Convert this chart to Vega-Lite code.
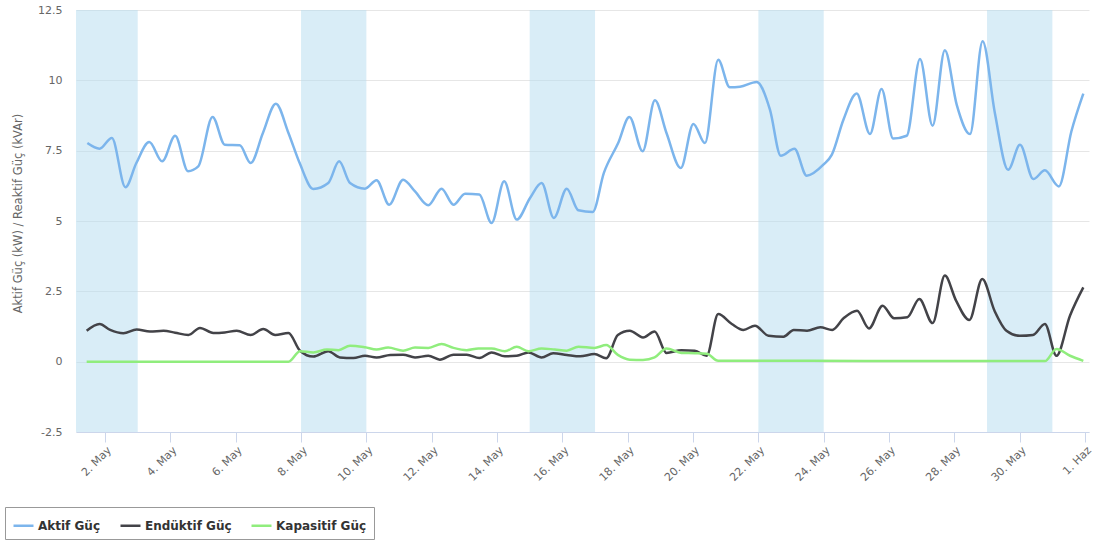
{
  "$schema": "https://vega.github.io/schema/vega-lite/v6.json",
  "width": 1013,
  "height": 422,
  "autosize": {"type": "none"},
  "padding": {"left": 76, "top": 10, "right": 8, "bottom": 111},
  "config": {"view": {"stroke": null}, "font": "DejaVu Sans"},
  "datasets": {
    "bands": [
      {"start": "2021-05-01T00:00", "end": "2021-05-03T00:00"},
      {"start": "2021-05-08T00:00", "end": "2021-05-10T00:00"},
      {"start": "2021-05-15T00:00", "end": "2021-05-17T00:00"},
      {"start": "2021-05-22T00:00", "end": "2021-05-24T00:00"},
      {"start": "2021-05-29T00:00", "end": "2021-05-31T00:00"}
    ],
    "series": [
      {"t": "2021-05-01T11:00", "s": "Aktif Güç", "v": 7.77},
      {"t": "2021-05-01T20:00", "s": "Aktif Güç", "v": 7.57},
      {"t": "2021-05-02T05:00", "s": "Aktif Güç", "v": 7.95},
      {"t": "2021-05-02T15:00", "s": "Aktif Güç", "v": 6.20},
      {"t": "2021-05-02T23:00", "s": "Aktif Güç", "v": 7.06},
      {"t": "2021-05-03T08:30", "s": "Aktif Güç", "v": 7.81},
      {"t": "2021-05-03T18:00", "s": "Aktif Güç", "v": 7.12},
      {"t": "2021-05-04T03:30", "s": "Aktif Güç", "v": 8.03},
      {"t": "2021-05-04T13:00", "s": "Aktif Güç", "v": 6.77},
      {"t": "2021-05-04T20:30", "s": "Aktif Güç", "v": 6.94},
      {"t": "2021-05-05T07:00", "s": "Aktif Güç", "v": 8.70},
      {"t": "2021-05-05T16:00", "s": "Aktif Güç", "v": 7.71},
      {"t": "2021-05-06T03:00", "s": "Aktif Güç", "v": 7.69},
      {"t": "2021-05-06T11:00", "s": "Aktif Güç", "v": 7.06},
      {"t": "2021-05-06T20:00", "s": "Aktif Güç", "v": 8.13},
      {"t": "2021-05-07T05:30", "s": "Aktif Güç", "v": 9.17},
      {"t": "2021-05-07T14:45", "s": "Aktif Güç", "v": 8.13},
      {"t": "2021-05-07T23:00", "s": "Aktif Güç", "v": 7.06},
      {"t": "2021-05-08T09:00", "s": "Aktif Güç", "v": 6.14},
      {"t": "2021-05-08T20:00", "s": "Aktif Güç", "v": 6.35},
      {"t": "2021-05-09T04:00", "s": "Aktif Güç", "v": 7.12},
      {"t": "2021-05-09T12:00", "s": "Aktif Güç", "v": 6.35},
      {"t": "2021-05-09T23:00", "s": "Aktif Güç", "v": 6.15},
      {"t": "2021-05-10T07:30", "s": "Aktif Güç", "v": 6.45},
      {"t": "2021-05-10T16:45", "s": "Aktif Güç", "v": 5.58},
      {"t": "2021-05-11T03:00", "s": "Aktif Güç", "v": 6.47},
      {"t": "2021-05-11T11:45", "s": "Aktif Güç", "v": 6.05},
      {"t": "2021-05-11T21:30", "s": "Aktif Güç", "v": 5.56},
      {"t": "2021-05-12T07:15", "s": "Aktif Güç", "v": 6.15},
      {"t": "2021-05-12T16:00", "s": "Aktif Güç", "v": 5.58},
      {"t": "2021-05-13T00:30", "s": "Aktif Güç", "v": 5.97},
      {"t": "2021-05-13T11:00", "s": "Aktif Güç", "v": 5.94},
      {"t": "2021-05-13T20:00", "s": "Aktif Güç", "v": 4.93},
      {"t": "2021-05-14T05:15", "s": "Aktif Güç", "v": 6.41},
      {"t": "2021-05-14T14:30", "s": "Aktif Güç", "v": 5.05},
      {"t": "2021-05-15T00:15", "s": "Aktif Güç", "v": 5.82},
      {"t": "2021-05-15T08:45", "s": "Aktif Güç", "v": 6.35},
      {"t": "2021-05-15T17:45", "s": "Aktif Güç", "v": 5.11},
      {"t": "2021-05-16T03:15", "s": "Aktif Güç", "v": 6.15},
      {"t": "2021-05-16T11:45", "s": "Aktif Güç", "v": 5.38},
      {"t": "2021-05-16T22:15", "s": "Aktif Güç", "v": 5.32},
      {"t": "2021-05-17T06:30", "s": "Aktif Güç", "v": 6.71},
      {"t": "2021-05-17T17:00", "s": "Aktif Güç", "v": 7.77},
      {"t": "2021-05-18T01:15", "s": "Aktif Güç", "v": 8.70},
      {"t": "2021-05-18T11:00", "s": "Aktif Güç", "v": 7.48},
      {"t": "2021-05-18T20:00", "s": "Aktif Güç", "v": 9.29},
      {"t": "2021-05-19T04:30", "s": "Aktif Güç", "v": 8.13},
      {"t": "2021-05-19T15:00", "s": "Aktif Güç", "v": 6.88},
      {"t": "2021-05-20T00:15", "s": "Aktif Güç", "v": 8.45},
      {"t": "2021-05-20T08:45", "s": "Aktif Güç", "v": 7.77},
      {"t": "2021-05-20T18:30", "s": "Aktif Güç", "v": 10.73},
      {"t": "2021-05-21T03:00", "s": "Aktif Güç", "v": 9.75},
      {"t": "2021-05-21T10:30", "s": "Aktif Güç", "v": 9.77},
      {"t": "2021-05-21T22:45", "s": "Aktif Güç", "v": 9.94},
      {"t": "2021-05-22T08:30", "s": "Aktif Güç", "v": 8.96},
      {"t": "2021-05-22T16:30", "s": "Aktif Güç", "v": 7.32},
      {"t": "2021-05-23T02:30", "s": "Aktif Güç", "v": 7.57},
      {"t": "2021-05-23T11:30", "s": "Aktif Güç", "v": 6.61},
      {"t": "2021-05-23T23:45", "s": "Aktif Güç", "v": 7.00},
      {"t": "2021-05-24T06:00", "s": "Aktif Güç", "v": 7.36},
      {"t": "2021-05-24T14:30", "s": "Aktif Güç", "v": 8.60},
      {"t": "2021-05-25T00:15", "s": "Aktif Güç", "v": 9.53},
      {"t": "2021-05-25T10:00", "s": "Aktif Güç", "v": 8.09},
      {"t": "2021-05-25T18:30", "s": "Aktif Güç", "v": 9.69},
      {"t": "2021-05-26T03:00", "s": "Aktif Güç", "v": 7.93},
      {"t": "2021-05-26T13:00", "s": "Aktif Güç", "v": 8.03},
      {"t": "2021-05-26T22:45", "s": "Aktif Güç", "v": 10.76},
      {"t": "2021-05-27T08:00", "s": "Aktif Güç", "v": 8.39},
      {"t": "2021-05-27T17:00", "s": "Aktif Güç", "v": 11.07},
      {"t": "2021-05-28T01:45", "s": "Aktif Güç", "v": 9.13},
      {"t": "2021-05-28T11:30", "s": "Aktif Güç", "v": 8.09},
      {"t": "2021-05-28T20:45", "s": "Aktif Güç", "v": 11.39},
      {"t": "2021-05-29T05:45", "s": "Aktif Güç", "v": 8.84},
      {"t": "2021-05-29T15:30", "s": "Aktif Güç", "v": 6.82},
      {"t": "2021-05-30T00:15", "s": "Aktif Güç", "v": 7.71},
      {"t": "2021-05-30T10:00", "s": "Aktif Güç", "v": 6.49},
      {"t": "2021-05-30T18:30", "s": "Aktif Güç", "v": 6.80},
      {"t": "2021-05-31T04:45", "s": "Aktif Güç", "v": 6.23},
      {"t": "2021-05-31T14:00", "s": "Aktif Güç", "v": 8.19},
      {"t": "2021-05-31T22:45", "s": "Aktif Güç", "v": 9.53},

      {"t": "2021-05-01T10:30", "s": "Endüktif Güç", "v": 1.10},
      {"t": "2021-05-01T20:00", "s": "Endüktif Güç", "v": 1.34},
      {"t": "2021-05-02T03:45", "s": "Endüktif Güç", "v": 1.13},
      {"t": "2021-05-02T13:30", "s": "Endüktif Güç", "v": 1.01},
      {"t": "2021-05-02T23:15", "s": "Endüktif Güç", "v": 1.14},
      {"t": "2021-05-03T09:00", "s": "Endüktif Güç", "v": 1.07},
      {"t": "2021-05-03T19:00", "s": "Endüktif Güç", "v": 1.10},
      {"t": "2021-05-04T03:30", "s": "Endüktif Güç", "v": 1.03},
      {"t": "2021-05-04T13:15", "s": "Endüktif Güç", "v": 0.95},
      {"t": "2021-05-04T21:45", "s": "Endüktif Güç", "v": 1.20},
      {"t": "2021-05-05T07:30", "s": "Endüktif Güç", "v": 1.02},
      {"t": "2021-05-05T16:00", "s": "Endüktif Güç", "v": 1.04},
      {"t": "2021-05-06T00:45", "s": "Endüktif Güç", "v": 1.10},
      {"t": "2021-05-06T11:00", "s": "Endüktif Güç", "v": 0.95},
      {"t": "2021-05-06T20:15", "s": "Endüktif Güç", "v": 1.16},
      {"t": "2021-05-07T05:00", "s": "Endüktif Güç", "v": 0.95},
      {"t": "2021-05-07T14:45", "s": "Endüktif Güç", "v": 1.02},
      {"t": "2021-05-07T23:15", "s": "Endüktif Güç", "v": 0.39},
      {"t": "2021-05-08T09:00", "s": "Endüktif Güç", "v": 0.18},
      {"t": "2021-05-08T20:00", "s": "Endüktif Güç", "v": 0.37},
      {"t": "2021-05-09T04:30", "s": "Endüktif Güç", "v": 0.15},
      {"t": "2021-05-09T14:30", "s": "Endüktif Güç", "v": 0.13},
      {"t": "2021-05-09T23:00", "s": "Endüktif Güç", "v": 0.21},
      {"t": "2021-05-10T07:30", "s": "Endüktif Güç", "v": 0.15},
      {"t": "2021-05-10T17:30", "s": "Endüktif Güç", "v": 0.24},
      {"t": "2021-05-11T03:00", "s": "Endüktif Güç", "v": 0.25},
      {"t": "2021-05-11T11:45", "s": "Endüktif Güç", "v": 0.15},
      {"t": "2021-05-11T21:30", "s": "Endüktif Güç", "v": 0.21},
      {"t": "2021-05-12T06:00", "s": "Endüktif Güç", "v": 0.07},
      {"t": "2021-05-12T16:00", "s": "Endüktif Güç", "v": 0.25},
      {"t": "2021-05-13T01:45", "s": "Endüktif Güç", "v": 0.25},
      {"t": "2021-05-13T11:00", "s": "Endüktif Güç", "v": 0.13},
      {"t": "2021-05-13T20:00", "s": "Endüktif Güç", "v": 0.33},
      {"t": "2021-05-14T05:45", "s": "Endüktif Güç", "v": 0.19},
      {"t": "2021-05-14T14:30", "s": "Endüktif Güç", "v": 0.21},
      {"t": "2021-05-14T23:00", "s": "Endüktif Güç", "v": 0.33},
      {"t": "2021-05-15T08:45", "s": "Endüktif Güç", "v": 0.15},
      {"t": "2021-05-15T17:15", "s": "Endüktif Güç", "v": 0.30},
      {"t": "2021-05-16T03:15", "s": "Endüktif Güç", "v": 0.24},
      {"t": "2021-05-16T13:00", "s": "Endüktif Güç", "v": 0.19},
      {"t": "2021-05-16T23:30", "s": "Endüktif Güç", "v": 0.27},
      {"t": "2021-05-17T08:15", "s": "Endüktif Güç", "v": 0.12},
      {"t": "2021-05-17T16:45", "s": "Endüktif Güç", "v": 0.95},
      {"t": "2021-05-18T01:30", "s": "Endüktif Güç", "v": 1.10},
      {"t": "2021-05-18T11:15", "s": "Endüktif Güç", "v": 0.86},
      {"t": "2021-05-18T19:45", "s": "Endüktif Güç", "v": 1.07},
      {"t": "2021-05-19T04:30", "s": "Endüktif Güç", "v": 0.31},
      {"t": "2021-05-19T15:30", "s": "Endüktif Güç", "v": 0.41},
      {"t": "2021-05-20T01:15", "s": "Endüktif Güç", "v": 0.39},
      {"t": "2021-05-20T10:00", "s": "Endüktif Güç", "v": 0.21},
      {"t": "2021-05-20T18:30", "s": "Endüktif Güç", "v": 1.69},
      {"t": "2021-05-21T04:30", "s": "Endüktif Güç", "v": 1.34},
      {"t": "2021-05-21T13:00", "s": "Endüktif Güç", "v": 1.13},
      {"t": "2021-05-21T21:30", "s": "Endüktif Güç", "v": 1.28},
      {"t": "2021-05-22T07:30", "s": "Endüktif Güç", "v": 0.92},
      {"t": "2021-05-22T18:30", "s": "Endüktif Güç", "v": 0.89},
      {"t": "2021-05-23T02:00", "s": "Endüktif Güç", "v": 1.13},
      {"t": "2021-05-23T11:45", "s": "Endüktif Güç", "v": 1.10},
      {"t": "2021-05-23T21:30", "s": "Endüktif Güç", "v": 1.22},
      {"t": "2021-05-24T06:15", "s": "Endüktif Güç", "v": 1.13},
      {"t": "2021-05-24T14:45", "s": "Endüktif Güç", "v": 1.55},
      {"t": "2021-05-25T00:30", "s": "Endüktif Güç", "v": 1.81},
      {"t": "2021-05-25T09:15", "s": "Endüktif Güç", "v": 1.18},
      {"t": "2021-05-25T19:15", "s": "Endüktif Güç", "v": 1.99},
      {"t": "2021-05-26T03:45", "s": "Endüktif Güç", "v": 1.54},
      {"t": "2021-05-26T13:30", "s": "Endüktif Güç", "v": 1.58},
      {"t": "2021-05-26T22:15", "s": "Endüktif Güç", "v": 2.23},
      {"t": "2021-05-27T08:00", "s": "Endüktif Güç", "v": 1.37},
      {"t": "2021-05-27T17:00", "s": "Endüktif Güç", "v": 3.06},
      {"t": "2021-05-28T01:15", "s": "Endüktif Güç", "v": 2.17},
      {"t": "2021-05-28T11:00", "s": "Endüktif Güç", "v": 1.48},
      {"t": "2021-05-28T20:30", "s": "Endüktif Güç", "v": 2.94},
      {"t": "2021-05-29T05:30", "s": "Endüktif Güç", "v": 1.81},
      {"t": "2021-05-29T14:15", "s": "Endüktif Güç", "v": 1.10},
      {"t": "2021-05-30T00:00", "s": "Endüktif Güç", "v": 0.92},
      {"t": "2021-05-30T09:45", "s": "Endüktif Güç", "v": 0.95},
      {"t": "2021-05-30T18:30", "s": "Endüktif Güç", "v": 1.34},
      {"t": "2021-05-31T03:00", "s": "Endüktif Güç", "v": 0.21},
      {"t": "2021-05-31T13:00", "s": "Endüktif Güç", "v": 1.64},
      {"t": "2021-05-31T22:45", "s": "Endüktif Güç", "v": 2.64},

      {"t": "2021-05-01T10:30", "s": "Kapasitif Güç", "v": 0.0},
      {"t": "2021-05-04T12:00", "s": "Kapasitif Güç", "v": 0.0},
      {"t": "2021-05-07T14:45", "s": "Kapasitif Güç", "v": 0.0},
      {"t": "2021-05-07T23:15", "s": "Kapasitif Güç", "v": 0.37},
      {"t": "2021-05-08T09:00", "s": "Kapasitif Güç", "v": 0.33},
      {"t": "2021-05-08T19:00", "s": "Kapasitif Güç", "v": 0.43},
      {"t": "2021-05-09T03:30", "s": "Kapasitif Güç", "v": 0.41},
      {"t": "2021-05-09T12:00", "s": "Kapasitif Güç", "v": 0.57},
      {"t": "2021-05-09T23:00", "s": "Kapasitif Güç", "v": 0.51},
      {"t": "2021-05-10T07:30", "s": "Kapasitif Güç", "v": 0.43},
      {"t": "2021-05-10T16:00", "s": "Kapasitif Güç", "v": 0.50},
      {"t": "2021-05-11T03:00", "s": "Kapasitif Güç", "v": 0.39},
      {"t": "2021-05-11T11:45", "s": "Kapasitif Güç", "v": 0.50},
      {"t": "2021-05-11T21:30", "s": "Kapasitif Güç", "v": 0.49},
      {"t": "2021-05-12T07:15", "s": "Kapasitif Güç", "v": 0.63},
      {"t": "2021-05-12T16:00", "s": "Kapasitif Güç", "v": 0.49},
      {"t": "2021-05-13T01:45", "s": "Kapasitif Güç", "v": 0.41},
      {"t": "2021-05-13T10:15", "s": "Kapasitif Güç", "v": 0.47},
      {"t": "2021-05-13T20:00", "s": "Kapasitif Güç", "v": 0.47},
      {"t": "2021-05-14T05:45", "s": "Kapasitif Güç", "v": 0.37},
      {"t": "2021-05-14T14:30", "s": "Kapasitif Güç", "v": 0.53},
      {"t": "2021-05-14T23:00", "s": "Kapasitif Güç", "v": 0.37},
      {"t": "2021-05-15T08:45", "s": "Kapasitif Güç", "v": 0.47},
      {"t": "2021-05-15T18:30", "s": "Kapasitif Güç", "v": 0.43},
      {"t": "2021-05-16T03:15", "s": "Kapasitif Güç", "v": 0.39},
      {"t": "2021-05-16T11:45", "s": "Kapasitif Güç", "v": 0.53},
      {"t": "2021-05-16T23:30", "s": "Kapasitif Güç", "v": 0.49},
      {"t": "2021-05-17T08:15", "s": "Kapasitif Güç", "v": 0.59},
      {"t": "2021-05-17T16:45", "s": "Kapasitif Güç", "v": 0.24},
      {"t": "2021-05-18T01:30", "s": "Kapasitif Güç", "v": 0.07},
      {"t": "2021-05-18T11:15", "s": "Kapasitif Güç", "v": 0.06},
      {"t": "2021-05-18T19:45", "s": "Kapasitif Güç", "v": 0.15},
      {"t": "2021-05-19T04:30", "s": "Kapasitif Güç", "v": 0.47},
      {"t": "2021-05-19T15:30", "s": "Kapasitif Güç", "v": 0.31},
      {"t": "2021-05-20T01:15", "s": "Kapasitif Güç", "v": 0.30},
      {"t": "2021-05-20T10:00", "s": "Kapasitif Güç", "v": 0.28},
      {"t": "2021-05-20T18:30", "s": "Kapasitif Güç", "v": 0.03},
      {"t": "2021-05-23T12:00", "s": "Kapasitif Güç", "v": 0.03},
      {"t": "2021-05-27T00:00", "s": "Kapasitif Güç", "v": 0.02},
      {"t": "2021-05-30T18:30", "s": "Kapasitif Güç", "v": 0.02},
      {"t": "2021-05-31T03:00", "s": "Kapasitif Güç", "v": 0.45},
      {"t": "2021-05-31T13:00", "s": "Kapasitif Güç", "v": 0.21},
      {"t": "2021-05-31T22:45", "s": "Kapasitif Güç", "v": 0.03}
    ]
  },
  "layer": [
    {
      "data": {"name": "bands"},
      "mark": {"type": "rect", "color": "#b3dbef", "opacity": 0.5, "clip": true},
      "encoding": {
        "x": {
          "field": "start", "type": "temporal",
          "scale": {"domain": [{"year": 2021, "month": 5, "date": 1, "hours": 2, "minutes": 40}, {"year": 2021, "month": 6, "date": 1, "hours": 2, "minutes": 55}]},
          "axis": {
            "values": [
              {"year": 2021, "month": 5, "date": 2}, {"year": 2021, "month": 5, "date": 4}, {"year": 2021, "month": 5, "date": 6},
              {"year": 2021, "month": 5, "date": 8}, {"year": 2021, "month": 5, "date": 10}, {"year": 2021, "month": 5, "date": 12},
              {"year": 2021, "month": 5, "date": 14}, {"year": 2021, "month": 5, "date": 16}, {"year": 2021, "month": 5, "date": 18},
              {"year": 2021, "month": 5, "date": 20}, {"year": 2021, "month": 5, "date": 22}, {"year": 2021, "month": 5, "date": 24},
              {"year": 2021, "month": 5, "date": 26}, {"year": 2021, "month": 5, "date": 28}, {"year": 2021, "month": 5, "date": 30},
              {"year": 2021, "month": 6, "date": 1}
            ],
            "labelExpr": "date(datum.value) + (month(datum.value) == 5 ? '. Haz' : '. May')",
            "labelAngle": -45, "labelColor": "#666666", "labelFontSize": 11,
            "tickColor": "#ccd6eb", "tickSize": 10, "domainColor": "#ccd6eb",
            "grid": false, "title": null, "labelPadding": 2
          }
        },
        "x2": {"field": "end"}
      }
    },
    {
      "data": {"name": "series"},
      "mark": {"type": "line", "interpolate": "monotone", "strokeWidth": 2.5},
      "encoding": {
        "x": {"field": "t", "type": "temporal"},
        "y": {
          "field": "v", "type": "quantitative",
          "scale": {"domain": [-2.5, 12.5], "nice": false, "zero": false},
          "axis": {
            "values": [-2.5, 0, 2.5, 5, 7.5, 10, 12.5],
            "labelExpr": "datum.value < 0 ? '-' + format(-datum.value, '.1~f') : format(datum.value, '.1~f')",
            "title": "Aktif Güç (kW) / Reaktif Güç (kVAr)",
            "titleColor": "#666666", "titleFontSize": 11.5, "titleFontWeight": "normal",
            "titleX": -58, "titleY": 203, "titleAlign": "center", "titleBaseline": "middle",
            "labelColor": "#666666", "labelFontSize": 11, "labelPadding": 14,
            "domain": false, "ticks": false, "gridColor": "#e6e6e6"
          }
        },
        "color": {
          "field": "s", "type": "nominal",
          "scale": {"domain": ["Aktif Güç", "Endüktif Güç", "Kapasitif Güç"], "range": ["#7cb5ec", "#434348", "#90ed7d"]},
          "legend": {
            "orient": "none", "legendX": -71, "legendY": 497, "direction": "horizontal",
            "title": null, "symbolType": "stroke", "symbolSize": 400, "symbolStrokeWidth": 2.5,
            "labelFontSize": 12, "labelFontWeight": "bold", "labelColor": "#333333",
            "strokeColor": "#999999", "padding": 7, "columnPadding": 14, "labelOffset": 3, "cornerRadius": 0
          }
        }
      }
    }
  ]
}
